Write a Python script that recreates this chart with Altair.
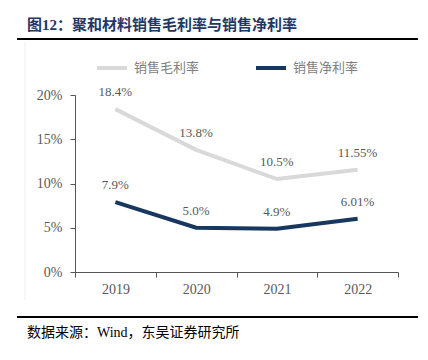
import altair as alt
import pandas as pd

years = ["2019", "2020", "2021", "2022"]
gross = [18.4, 13.8, 10.5, 11.55]
net = [7.9, 5.0, 4.9, 6.01]
series = ["销售毛利率", "销售净利率"]
colors = ["#d9d9d9", "#17375e"]
y_ticks = [0, 5, 10, 15, 20]
title_text = "图12：聚和材料销售毛利率与销售净利率"
source_text = "数据来源：Wind，东吴证券研究所"

rows = []
for s, vals in zip(series, [gross, net]):
    for yr, v in zip(years, vals):
        rows.append({"year": yr, "value": v, "series": s, "label": f"{v}%"})
df = pd.DataFrame(rows)

FONT = "Liberation Serif, Noto Sans CJK SC"
CJK = "Noto Sans CJK SC"

x_enc = alt.X(
    "year:O",
    scale=alt.Scale(type="band", paddingInner=0, paddingOuter=0),
    axis=alt.Axis(title=None, tickBand="extent", labelAngle=0, tickSize=5,
                  labelPadding=5, labelFont=FONT, labelFontSize=14,
                  labelColor="#595959", domainColor="#555555", tickColor="#555555"),
)
y_enc = alt.Y(
    "value:Q",
    scale=alt.Scale(domain=[0, 20]),
    axis=alt.Axis(title=None, values=y_ticks, labelExpr="datum.value + '%'",
                  tickSize=5, labelPadding=8, grid=False, labelFont=FONT,
                  labelFontSize=14, labelColor="#595959",
                  domainColor="#555555", tickColor="#555555"),
)

lines = alt.Chart(df).mark_line(strokeWidth=4).encode(
    x=x_enc,
    y=y_enc,
    color=alt.Color(
        "series:N",
        scale=alt.Scale(domain=series, range=colors),
        sort=series,
        legend=alt.Legend(
            title=None, orient="none", legendX=20, legendY=-44,
            direction="horizontal", symbolType="stroke", symbolSize=900,
            symbolStrokeWidth=4, labelFont=CJK, labelFontSize=13,
            labelColor="#7f7f7f", labelOffset=5, columnPadding=48, padding=0,
        ),
    ),
)

labels = alt.Chart(df).mark_text(
    dy=-17, font=FONT, fontSize=13, color="#595959", baseline="middle"
).encode(x="year:O", y="value:Q", text="label:N")

deco = pd.DataFrame({"a": [0]})
top_rule = alt.Chart(deco).mark_rule(color="#000000", strokeWidth=2).encode(
    x=alt.value(-58), x2=alt.value(343), y=alt.value(-56))
bottom_rule = alt.Chart(deco).mark_rule(color="#000000", strokeWidth=2).encode(
    x=alt.value(-58), x2=alt.value(343), y=alt.value(222))
side_line = alt.Chart(deco).mark_rule(color="#eeeeee", strokeWidth=1).encode(
    x=alt.value(-50), y=alt.value(-53), y2=alt.value(205))
title = alt.Chart(deco).mark_text(
    align="left", baseline="middle", font=FONT, fontSize=15, fontWeight="bold",
    color="#1f3864").encode(x=alt.value(-48), y=alt.value(-70), text=alt.value(title_text))
source = alt.Chart(deco).mark_text(
    align="left", baseline="middle", font=FONT, fontSize=14,
    color="#000000").encode(x=alt.value(-48), y=alt.value(238), text=alt.value(source_text))

chart = alt.layer(side_line, top_rule, bottom_rule, title, source, lines, labels).properties(
    width=323, height=177,
    autosize=alt.AutoSizeParams(type="none"),
    padding={"left": 67, "top": 87, "right": 22, "bottom": 80},
).configure_view(stroke=None).configure_axis(grid=False)

chart.save("out.html", embed_options={"renderer": "svg", "actions": False})
